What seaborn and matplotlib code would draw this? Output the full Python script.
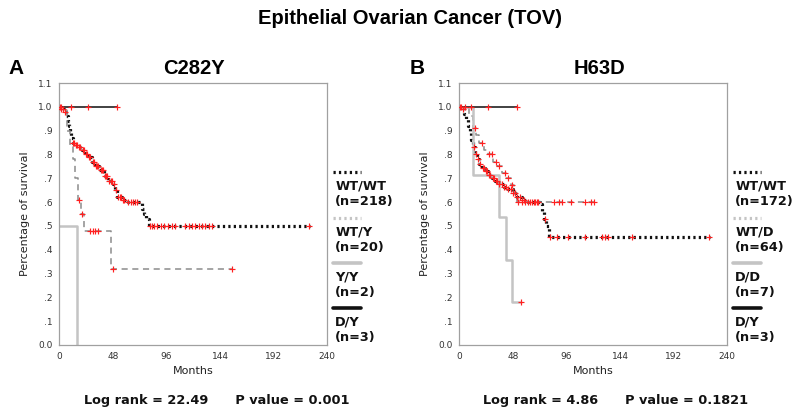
import numpy as np
import matplotlib
matplotlib.use('Agg')
import matplotlib.pyplot as plt
import seaborn as sns

# Kaplan-Meier curves: months vs. fraction surviving
# ---- Panel A : C282Y ----
a_wtwt_t = [0, 2, 4, 6, 8, 9, 10, 11, 12, 14, 17, 20, 23, 26, 29, 32, 36, 40, 44, 48, 50, 52, 56, 60, 74, 76, 78, 80, 225]
a_wtwt_s = [1.0, .99, .98, .96, .94, .92, .90, .87, .85, .84, .83, .82, .80, .79, .77, .75, .735, .71, .69, .675, .65, .62, .61, .60, .57, .55, .53, .50, .50]
a_wtwt_c = [1, 2, 3, 5, 12, 13, 15, 16, 18, 19, 21, 22, 24, 25, 27, 28, 30, 31, 33, 34, 35, 37, 38, 39, 41, 42,
            43, 45, 46, 47, 49, 51, 53, 54, 55, 57, 58, 62, 64, 66, 68, 70,
            81, 83, 85, 88, 91, 94, 97, 101, 104, 113, 116, 119, 122, 125, 128, 131, 134, 137, 224]

a_wty_t = [0, 7, 10, 12, 14, 17, 19.5, 22, 46, 155]
a_wty_s = [1.0, .90, .84, .78, .70, .61, .55, .48, .32, .32]
a_wty_c = [18, 20.5, 28, 30, 32, 35, 48, 155]

a_yy_t = [0, 16]
a_yy_s = [.5, 0.0]
a_yy_c = []

a_dy_t = [0, 52]
a_dy_s = [1.0, 1.0]
a_dy_c = [2, 11, 26, 52]

# ---- Panel B : H63D ----
b_wtwt_t = [0, 2, 4, 6, 8, 10, 11, 12, 14, 16, 18, 20, 23, 26, 29, 32, 36, 40, 44, 48, 52, 56, 60, 72, 74, 76, 78, 80, 225]
b_wtwt_s = [1.0, .99, .97, .95, .92, .89, .86, .83, .80, .78, .76, .745, .73, .715, .70, .69, .675, .665, .655, .64, .62, .61, .60, .59, .56, .53, .50, .455, .455]
b_wtwt_c = [1, 3, 13, 15, 17, 19, 21, 22, 24, 25, 27, 28, 30, 31, 33, 34, 36, 38, 40, 42, 44, 46, 48, 50, 52,
            54, 56, 58, 62, 65, 68, 70, 77, 81, 88, 97, 113, 128, 131, 133, 155, 224]

b_wtd_t = [0, 9, 12, 15, 18, 22, 26, 30, 34, 38, 42, 46, 49, 52, 121]
b_wtd_s = [1.0, .96, .91, .88, .85, .82, .80, .77, .75, .72, .70, .67, .64, .60, .60]
b_wtd_c = [5, 14, 20, 27, 29, 33, 36, 41, 44, 47, 53, 56, 59, 63, 67, 71, 85, 89, 92, 100, 113, 118, 121]

b_dd_t = [0, 12, 36, 42, 47.5, 55]
b_dd_s = [1.0, .714, .536, .357, .179, .179]
b_dd_c = [55]

b_dy_t = [0, 52]
b_dy_s = [1.0, 1.0]
b_dy_c = [2, 11, 26, 52]

a_labels = ['WT/WT\n(n=218)', 'WT/Y\n(n=20)', 'Y/Y\n(n=2)', 'D/Y\n(n=3)']
b_labels = ['WT/WT\n(n=172)', 'WT/D\n(n=64)', 'D/D\n(n=7)', 'D/Y\n(n=3)']

# line styles per genotype group (same order in both panels)
styles = [dict(color='#111111', ls=(0, (0.7, 1.0)), lw=2.3),
          dict(color='#8c8c8c', ls=(0, (4, 3)), lw=1.1),
          dict(color='#c4c4c4', ls='-', lw=1.8),
          dict(color='#333333', ls='-', lw=1.3)]
legend_styles = [dict(color='#111111', ls=(0, (0.7, 1.0)), lw=2.3),
                 dict(color='#c4c4c4', ls=(0, (0.7, 1.0)), lw=2.3),
                 dict(color='#c4c4c4', ls='-', lw=2.6),
                 dict(color='#111111', ls='-', lw=2.6)]


def km_curve(ax, t, s, st):
    sns.lineplot(x=t, y=s, ax=ax, color=st['color'], lw=st['lw'],
                 drawstyle='steps-post', estimator=None, sort=False)
    ax.lines[-1].set_linestyle(st['ls'])


def censor_marks(ax, t, s, cens):
    if len(cens) == 0:
        return
    idx = np.searchsorted(t, cens, side='right') - 1
    sns.scatterplot(x=cens, y=np.array(s)[idx], ax=ax, marker='+', color='#ff2020',
                    s=24, linewidth=0.85, zorder=5)


def setup_axes(ax):
    ax.set_xlim(0, 240)
    ax.set_ylim(0, 1.1)
    ax.set_xticks(np.arange(0, 241, 48))
    ax.set_xticks(np.arange(0, 241, 24), minor=True)
    ax.set_yticks(np.round(np.arange(0, 1.11, 0.1), 1))
    ax.set_yticklabels(['0.0', '.1', '.2', '.3', '.4', '.5', '.6', '.7', '.8', '.9', '1.0', '1.1'])
    ax.tick_params(axis='both', which='major', labelsize=6.5, length=3, width=0.8,
                   colors='#666666', labelcolor='#333333', pad=2)
    ax.tick_params(axis='x', which='minor', length=2, width=0.6, colors='#888888')
    for sp in ax.spines.values():
        sp.set_color('#a0a0a0')
        sp.set_linewidth(0.9)
    ax.set_xlabel('Months', fontsize=8, color='#222222', labelpad=4)
    ax.set_ylabel('Percentage of survival', fontsize=8, color='#222222', labelpad=6)
    ax.grid(False)


def draw_legend(ax, labels):
    ys = [0.660, 0.485, 0.313, 0.141]
    for y, lab, st in zip(ys, labels, legend_styles):
        ax.plot([1.022, 1.125], [y, y], transform=ax.transAxes, clip_on=False,
                color=st['color'], ls=st['ls'], lw=st['lw'])
        ax.text(1.03, y - 0.03, lab, transform=ax.transAxes, fontsize=9.3,
                fontweight='bold', va='top', ha='left', color='#111111', linespacing=1.25)


sns.set_theme(style='white')
plt.rcParams['font.family'] = ['DejaVu Sans']
plt.rcParams['text.color'] = '#111111'

fig = plt.figure(figsize=(8, 4.13), dpi=100)
axA = fig.add_axes([0.074, 0.165, 0.335, 0.634])
axB = fig.add_axes([0.574, 0.165, 0.335, 0.634])

panelA = [(a_wtwt_t, a_wtwt_s, a_wtwt_c), (a_wty_t, a_wty_s, a_wty_c),
          (a_yy_t, a_yy_s, a_yy_c), (a_dy_t, a_dy_s, a_dy_c)]
panelB = [(b_wtwt_t, b_wtwt_s, b_wtwt_c), (b_wtd_t, b_wtd_s, b_wtd_c),
          (b_dd_t, b_dd_s, b_dd_c), (b_dy_t, b_dy_s, b_dy_c)]

for ax, curves, labels in [(axA, panelA, a_labels), (axB, panelB, b_labels)]:
    for (t, s, c), st in zip(curves, styles):
        km_curve(ax, t, s, st)
    for t, s, c in curves:
        censor_marks(ax, t, s, c)
    setup_axes(ax)
    draw_legend(ax, labels)

fig.text(0.513, 0.955, 'Epithelial Ovarian Cancer (TOV)', ha='center', va='center',
         fontsize=14.5, fontweight='bold', family='Liberation Sans', color='#000000')
fig.text(0.02, 0.835, 'A', ha='center', va='center', fontsize=15, fontweight='bold',
         family='Liberation Sans', color='#000000')
fig.text(0.2425, 0.835, 'C282Y', ha='center', va='center', fontsize=14.5, fontweight='bold',
         family='Liberation Sans', color='#000000')
fig.text(0.521, 0.835, 'B', ha='center', va='center', fontsize=15, fontweight='bold',
         family='Liberation Sans', color='#000000')
fig.text(0.749, 0.835, 'H63D', ha='center', va='center', fontsize=14.5, fontweight='bold',
         family='Liberation Sans', color='#000000')

fig.text(0.271, 0.031, 'Log rank = 22.49      P value = 0.001', ha='center', va='center',
         fontsize=9.3, fontweight='bold', color='#111111')
fig.text(0.769, 0.031, 'Log rank = 4.86      P value = 0.1821', ha='center', va='center',
         fontsize=9.3, fontweight='bold', color='#111111')

plt.savefig('out.png', dpi=100)
